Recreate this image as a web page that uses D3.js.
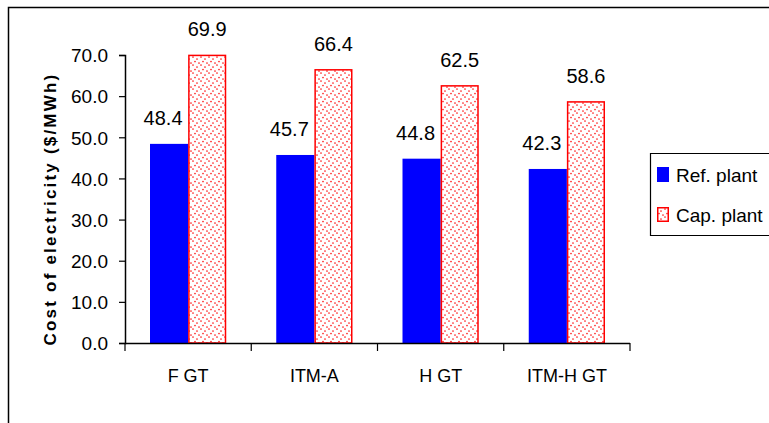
<!DOCTYPE html>
<html>
<head>
<meta charset="utf-8">
<script src="https://cdn.jsdelivr.net/npm/d3@7/dist/d3.min.js"></script>
<style>
  html, body { margin: 0; padding: 0; background: #fff; }
  svg { display: block; }
  text { font-family: "Liberation Sans", Arial, sans-serif; fill: #000; }
</style>
</head>
<body>
<svg id="chart" width="769" height="423"></svg>
<script>
const categories = ["F GT", "ITM-A", "H GT", "ITM-H GT"];
const seriesNames = ["Ref. plant", "Cap. plant"];
const refPlant = [48.4, 45.7, 44.8, 42.3];
const capPlant = [69.9, 66.4, 62.5, 58.6];
const yTicks = [0, 10, 20, 30, 40, 50, 60, 70];

const svg = d3.select("#chart");
const W = 769, H = 423;
const plot = { left: 125, right: 630, top: 55, bottom: 343 };

// dotted fill for the capture-plant bars
const defs = svg.append("defs");
const pat = defs.append("pattern")
  .attr("id", "dots").attr("patternUnits", "userSpaceOnUse")
  .attr("width", 8).attr("height", 8);
pat.append("rect").attr("width", 8).attr("height", 8).attr("fill", "#fff");
[[1, 1], [5, 3], [3, 5.5], [7, 7]].forEach(([cx, cy]) =>
  pat.append("circle").attr("cx", cx).attr("cy", cy).attr("r", 0.85).attr("fill", "#ff2020"));

// outer frame
svg.append("path")
  .attr("d", `M8.5,${H} V7.5 H${W}`)
  .attr("fill", "none").attr("stroke", "#000").attr("stroke-width", 1.5);

const x = d3.scaleBand().domain(categories).range([plot.left, plot.right]).paddingInner(0).paddingOuter(0);
const inner = d3.scaleBand().domain(seriesNames).range([25, x.bandwidth() - 25]).padding(0);
const y = d3.scaleLinear().domain([0, 70]).range([plot.bottom, plot.top]);

const rows = categories.map((c, i) => ({ cat: c, vals: [refPlant[i], capPlant[i]] }));

// bars with value labels
const g = svg.append("g");
rows.forEach(r => {
  r.vals.forEach((v, j) => {
    const bx = x(r.cat) + inner(seriesNames[j]);
    const bw = inner.bandwidth();
    if (j === 0) {
      g.append("rect").attr("x", bx).attr("y", y(v)).attr("width", bw)
        .attr("height", y(0) - y(v)).attr("fill", "#0000ff");
    } else {
      g.append("rect").attr("x", bx + 0.75).attr("y", y(v)).attr("width", bw - 1.5)
        .attr("height", y(0) - y(v)).attr("fill", "url(#dots)")
        .attr("stroke", "#ff0000").attr("stroke-width", 1.5);
    }
    g.append("text")
      .attr("x", bx + bw / 2 + (j === 0 ? -6 : 0))
      .attr("y", y(v) - 19)
      .attr("text-anchor", "middle")
      .attr("font-size", 20)
      .text(v.toFixed(1));
  });
});

// y axis
const yAxis = d3.axisLeft(y).tickValues(yTicks).tickFormat(d => d.toFixed(1)).tickSize(6).tickPadding(11);
const ya = svg.append("g").attr("transform", `translate(${plot.left},0)`).call(yAxis);
ya.attr("font-family", null).attr("font-size", null);
ya.select(".domain").attr("stroke", "#000").attr("stroke-width", 1.5);
ya.selectAll(".tick line").attr("stroke", "#000").attr("stroke-width", 1.2);
ya.selectAll(".tick text").attr("font-size", 19).attr("dy", "0.36em");

// x axis
const xAxis = d3.axisBottom(x).tickSize(0).tickPadding(26);
const xa = svg.append("g").attr("transform", `translate(0,${plot.bottom})`).call(xAxis);
xa.attr("font-family", null).attr("font-size", null);
xa.select(".domain").attr("d", `M${plot.left},0.5H${plot.right}`).attr("stroke", "#000").attr("stroke-width", 1.5);
xa.selectAll(".tick text").attr("font-size", 18);
// category boundary ticks
const bounds = categories.map(c => x(c)).concat([x.range()[1]]);
xa.selectAll(".bound").data(bounds).enter().append("line")
  .attr("x1", d => d).attr("x2", d => d).attr("y1", 0).attr("y2", 8)
  .attr("stroke", "#000").attr("stroke-width", 1.2);

// y axis title
svg.append("text")
  .attr("transform", `translate(56,${(plot.top + plot.bottom) / 2 + 10}) rotate(-90)`)
  .attr("text-anchor", "middle")
  .attr("font-size", 17).attr("font-weight", "bold")
  .attr("letter-spacing", 2.2)
  .text("Cost of electricity ($/MWh)");

// legend
const lg = svg.append("g");
lg.append("path").attr("d", `M${W},153.5 H650.5 V235.5 H${W}`)
  .attr("fill", "#fff").attr("stroke", "#000").attr("stroke-width", 1.2);
seriesNames.forEach((name, j) => {
  const cy = 175 + j * 40;
  if (j === 0) {
    lg.append("rect").attr("x", 657).attr("y", cy - 8).attr("width", 12).attr("height", 15).attr("fill", "#0000ff");
  } else {
    lg.append("rect").attr("x", 657.75).attr("y", cy - 7.25).attr("width", 10.5).attr("height", 13.5)
      .attr("fill", "url(#dots)").attr("stroke", "#ff0000").attr("stroke-width", 1.5);
  }
  lg.append("text").attr("x", 676).attr("y", cy + 7).attr("font-size", 19).text(name);
});
</script>
</body>
</html>
